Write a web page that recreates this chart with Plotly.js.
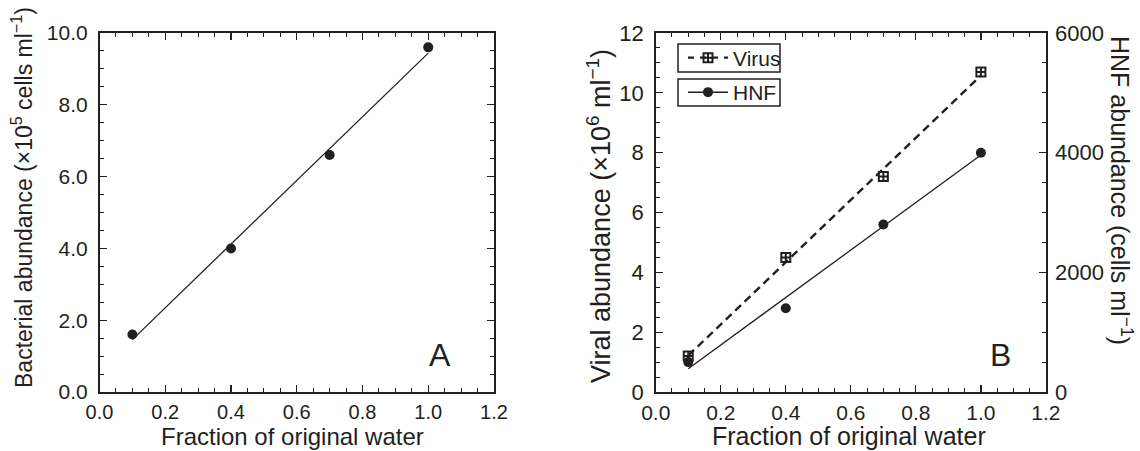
<!DOCTYPE html>
<html><head><meta charset="utf-8">
<script src="https://cdn.plot.ly/plotly-3.0.1.min.js"></script>
<style>html,body{margin:0;padding:0;background:#fff}</style>
</head><body><div id="chart" style="width:1140px;height:451px"></div>
<script>
// Data
const fraction = [0.1, 0.4, 0.7, 1.0];
const bacteria = [1.6, 4.0, 6.6, 9.6];      // x10^5 cells/ml
const virus = [1.2, 4.5, 7.2, 10.7];        // x10^6 /ml
const hnf = [500, 1400, 2800, 4000];        // cells/ml
const fitX = [0.1, 1.0];
const bacteriaFit = [1.46, 9.44];
const virusFit = [1.22, 10.58];
const hnfFit = [390, 3960];

const FONT = 'Liberation Sans, Arial, Helvetica, sans-serif';
const INK = '#231f20';
const W = 1140, H = 451;
const px = v => v / W, py = v => 1 - v / H;

function xAxis(domain, anchor, fs) {
  return {domain: domain, anchor: anchor, range: [0, 1.2], dtick: 0.2, tickformat: '.1f',
    showline: true, linecolor: INK, linewidth: 1.6, mirror: 'ticks',
    ticks: 'inside', ticklen: 7, tickwidth: 1.2, tickcolor: INK,
    minor: {dtick: 0.05, ticks: 'inside', ticklen: 4, tickwidth: 1, tickcolor: INK},
    showgrid: false, zeroline: false, fixedrange: true,
    tickfont: {size: fs, color: INK, family: FONT}, ticklabelstandoff: 1};
}
function yAxis(range, dtick, minor, fmt, fs, extra) {
  return Object.assign({domain: [0.1308, 0.9268], range: range, dtick: dtick, tickformat: fmt,
    showline: true, linecolor: INK, linewidth: 1.6,
    ticks: 'inside', ticklen: 7, tickwidth: 1.2, tickcolor: INK,
    minor: {dtick: minor, ticks: 'inside', ticklen: 4, tickwidth: 1, tickcolor: INK},
    showgrid: false, zeroline: false, fixedrange: true,
    tickfont: {size: fs, color: INK, family: FONT}, ticklabelstandoff: 6}, extra);
}

const virusMarker = {symbol: 'square-cross-open', size: 9, color: INK, line: {width: 2, color: INK}};
const dotMarker = {symbol: 'circle', size: 10, color: INK};

const traces = [
  {x: fitX, y: bacteriaFit, xaxis: 'x', yaxis: 'y', mode: 'lines', line: {color: INK, width: 1.3}, showlegend: false},
  {x: fraction, y: bacteria, xaxis: 'x', yaxis: 'y', mode: 'markers', marker: dotMarker, showlegend: false},
  {x: fitX, y: virusFit, xaxis: 'x2', yaxis: 'y2', mode: 'lines', line: {color: INK, width: 2.4, dash: '8px,5px'}, showlegend: false},
  {x: fraction, y: virus, xaxis: 'x2', yaxis: 'y2', mode: 'markers', marker: virusMarker, showlegend: false},
  {x: fitX, y: hnfFit, xaxis: 'x2', yaxis: 'y3', mode: 'lines', line: {color: INK, width: 1.3}, showlegend: false},
  {x: fraction, y: hnf, xaxis: 'x2', yaxis: 'y3', mode: 'markers', marker: dotMarker, showlegend: false},
  // legend entries (no marks on the plot)
  {x: [null], y: [null], xaxis: 'x2', yaxis: 'y2', name: 'Virus', mode: 'lines+markers', legend: 'legend',
    line: {color: INK, width: 2.4, dash: '6px,6px'}, marker: virusMarker},
  {x: [null], y: [null], xaxis: 'x2', yaxis: 'y3', name: 'HNF', mode: 'lines+markers', legend: 'legend2',
    line: {color: INK, width: 1.5}, marker: dotMarker}
];

function ann(text, x, y, size, angle) {
  return {text: text, x: x, y: y, xref: 'paper', yref: 'paper', showarrow: false,
    xanchor: 'center', yanchor: 'middle', textangle: angle || 0,
    font: {size: size, color: INK, family: FONT}};
}

const legendBase = {xanchor: 'left', yanchor: 'middle', bgcolor: 'rgba(0,0,0,0)', borderwidth: 0,
  font: {size: 21, color: INK, family: FONT}, itemwidth: 40};

function box(x0, y0, x1, y1) {
  return {type: 'rect', xref: 'paper', yref: 'paper', x0: px(x0), x1: px(x1), y0: py(y1), y1: py(y0),
    line: {color: INK, width: 1.5}, fillcolor: '#fff', layer: 'above'};
}

const layout = {
  width: W, height: H, margin: {l: 0, r: 0, t: 0, b: 0},
  paper_bgcolor: '#fff', plot_bgcolor: '#fff', font: {family: FONT, color: INK},
  xaxis: xAxis([0.0873, 0.4333], 'y', 20),
  yaxis: yAxis([0, 10], 2, 0.5, '.1f', 21, {anchor: 'x', mirror: 'ticks'}),
  xaxis2: xAxis([0.5752, 0.9175], 'y2', 21),
  yaxis2: yAxis([0, 12], 2, 0.5, 'd', 22, {anchor: 'x2'}),
  yaxis3: yAxis([0, 6000], 2000, 500, 'd', 22, {anchor: 'x2', overlaying: 'y2', side: 'right', ticklabelstandoff: 3}),
  legend: Object.assign({}, legendBase, {x: px(683), y: py(58)}),
  legend2: Object.assign({}, legendBase, {x: px(683), y: py(92.5)}),
  shapes: [box(678, 44, 780, 72), box(678, 79, 780, 106)],
  annotations: [
    ann('Fraction of original water', px(292), py(436), 24, 0),
    ann('Fraction of original water', px(849), py(436), 25, 0),
    ann('Bacterial abundance (×10<sup>5</sup> cells ml<sup>−1</sup>)', px(22), py(198), 23, -90),
    ann('Viral abundance (×10<sup>6</sup> ml<sup>−1</sup>)', px(599), py(216), 27, -90),
    ann('HNF abundance (cells ml<sup>−1</sup>)', px(1121), py(190), 25, 90),
    ann('A', px(440), py(355), 32, 0),
    ann('B', px(1000), py(355), 32, 0)
  ]
};

Plotly.newPlot('chart', traces, layout, {staticPlot: true, displayModeBar: false});
</script></body></html>
